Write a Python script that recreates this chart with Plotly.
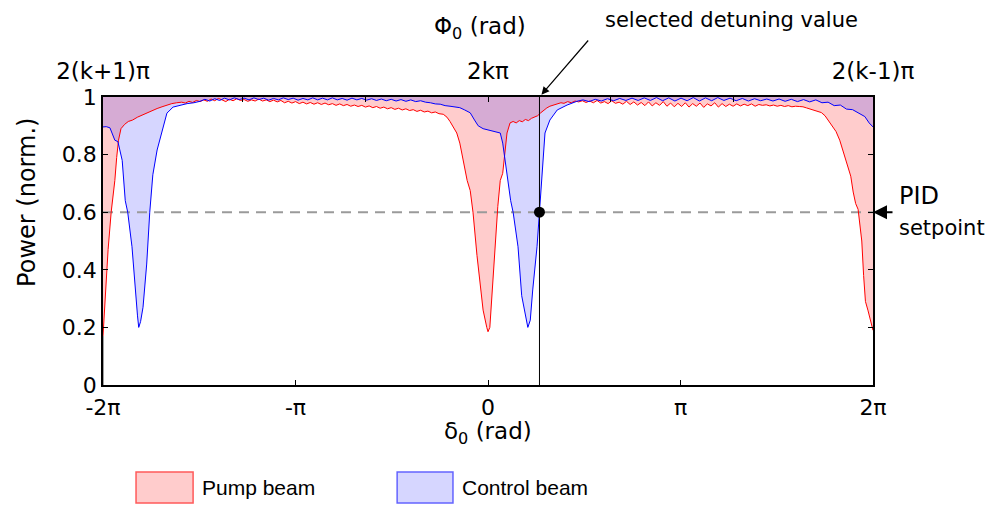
import numpy as np
import plotly.graph_objects as go

TWO_PI = 2 * np.pi
X_RANGE = [-TWO_PI, TWO_PI]
Y_RANGE = [0, 1]

# Pump beam (red) – normalised power vs detuning (rad)
PUMP_X = [-6.283, -6.25, -6.20, -6.15, -6.09, -6.06, -6.03, -5.99, -5.93, -5.87, -5.80, -5.72,
          -5.64, -5.56, -5.48, -5.40, -5.32, -5.24, -5.16, -5.08, -5.00, -4.94, -4.88, -4.82,
          -4.76, -4.70, -4.64, -4.58, -4.52, -4.46, -4.40, -4.34, -4.28, -4.22, -4.16, -4.10,
          -4.04, -3.98, -3.92, -3.86, -3.80, -3.74, -3.68, -3.62, -3.56, -3.50, -3.44, -3.38,
          -3.32, -3.26, -3.20, -3.14, -3.08, -3.02, -2.96, -2.90, -2.84, -2.78, -2.72, -2.66,
          -2.60, -2.54, -2.48, -2.42, -2.36, -2.30, -2.24, -2.18, -2.12, -2.06, -2.00, -1.94,
          -1.88, -1.82, -1.76, -1.70, -1.64, -1.58, -1.52, -1.46, -1.40, -1.34, -1.28, -1.22,
          -1.16, -1.10, -1.04, -0.98, -0.92, -0.86, -0.80, -0.73, -0.67, -0.62, -0.56, -0.51,
          -0.46, -0.41, -0.34, -0.29, -0.245, -0.18, -0.13, -0.08, -0.02, 0.00, 0.03, 0.07,
          0.11, 0.16, 0.20, 0.24, 0.31, 0.36, 0.41, 0.46, 0.51, 0.56, 0.61, 0.66, 0.71, 0.76,
          0.81, 0.86, 0.91, 0.96, 1.01, 1.07, 1.13, 1.19, 1.24, 1.30, 1.36, 1.42, 1.48, 1.54,
          1.60, 1.66, 1.72, 1.78, 1.84, 1.90, 1.96, 2.02, 2.08, 2.14, 2.20, 2.26, 2.32, 2.38,
          2.44, 2.50, 2.56, 2.62, 2.68, 2.74, 2.80, 2.86, 2.92, 2.98, 3.04, 3.10, 3.16, 3.22,
          3.28, 3.34, 3.40, 3.46, 3.52, 3.58, 3.64, 3.70, 3.76, 3.82, 3.88, 3.94, 4.00, 4.06,
          4.12, 4.18, 4.24, 4.30, 4.36, 4.42, 4.48, 4.54, 4.60, 4.66, 4.72, 4.78, 4.84, 4.90,
          4.96, 5.02, 5.08, 5.14, 5.20, 5.26, 5.32, 5.38, 5.44, 5.50, 5.56, 5.62, 5.68, 5.74,
          5.80, 5.86, 5.92, 5.96, 6.00, 6.04, 6.07, 6.10, 6.13, 6.16, 6.20, 6.24, 6.283]
PUMP_Y = [0.17, 0.30, 0.47, 0.60, 0.71, 0.79, 0.85, 0.89, 0.905, 0.915, 0.92, 0.93,
          0.938, 0.945, 0.952, 0.96, 0.966, 0.972, 0.977, 0.98, 0.982, 0.979, 0.985, 0.981,
          0.988, 0.984, 0.99, 0.985, 0.993, 0.987, 0.995, 0.99, 0.984, 0.992, 0.987, 0.994,
          0.988, 0.991, 0.985, 0.99, 0.986, 0.993, 0.986, 0.99, 0.984, 0.989, 0.983, 0.988,
          0.98, 0.985, 0.979, 0.984, 0.977, 0.982, 0.976, 0.981, 0.975, 0.98, 0.974, 0.979,
          0.973, 0.977, 0.971, 0.976, 0.97, 0.974, 0.968, 0.972, 0.967, 0.971, 0.965, 0.969,
          0.963, 0.967, 0.961, 0.965, 0.959, 0.963, 0.957, 0.961, 0.955, 0.959, 0.953, 0.956,
          0.95, 0.954, 0.948, 0.951, 0.945, 0.948, 0.942, 0.94, 0.93, 0.915, 0.895, 0.875,
          0.84, 0.79, 0.71, 0.675, 0.60, 0.45, 0.35, 0.26, 0.20, 0.185, 0.20, 0.33,
          0.48, 0.62, 0.71, 0.735, 0.875, 0.91, 0.915, 0.91, 0.918, 0.914, 0.922, 0.918, 0.926, 0.93,
          0.935, 0.945, 0.955, 0.962, 0.968, 0.972, 0.976, 0.98, 0.978, 0.984, 0.98, 0.986, 0.983, 0.987,
          0.981, 0.986, 0.98, 0.988, 0.979, 0.984, 0.977, 0.987, 0.978, 0.982, 0.975, 0.985, 0.974, 0.983,
          0.972, 0.981, 0.97, 0.983, 0.969, 0.98, 0.971, 0.984, 0.968, 0.979, 0.966, 0.978, 0.967, 0.98,
          0.965, 0.977, 0.968, 0.979, 0.964, 0.976, 0.969, 0.98, 0.965, 0.977, 0.967, 0.975, 0.968, 0.976,
          0.969, 0.975, 0.97, 0.976, 0.968, 0.974, 0.971, 0.973, 0.969, 0.972, 0.968, 0.971, 0.967, 0.97,
          0.966, 0.968, 0.967, 0.966, 0.962, 0.958, 0.954, 0.95, 0.946, 0.935, 0.918, 0.90, 0.88, 0.85,
          0.81, 0.77, 0.725, 0.67, 0.63, 0.61, 0.56, 0.50, 0.38, 0.29, 0.26, 0.23, 0.19]

# Control beam (blue)
CTRL_X = [-6.283, -6.23, -6.17, -6.12, -6.09, -6.04, -6.00, -5.97, -5.92, -5.88, -5.81, -5.76,
          -5.72, -5.70, -5.67, -5.63, -5.57, -5.52, -5.47, -5.40, -5.32, -5.24, -5.14, -5.02,
          -4.91, -4.80, -4.70, -4.62, -4.54, -4.46, -4.38, -4.30, -4.22, -4.14, -4.06, -3.98,
          -3.90, -3.82, -3.74, -3.66, -3.58, -3.50, -3.42, -3.34, -3.26, -3.18, -3.10, -3.02,
          -2.94, -2.86, -2.78, -2.70, -2.62, -2.54, -2.46, -2.38, -2.30, -2.22, -2.14, -2.06,
          -1.98, -1.90, -1.82, -1.74, -1.66, -1.58, -1.50, -1.42, -1.34, -1.26, -1.18, -1.10,
          -1.02, -0.94, -0.86, -0.78, -0.70, -0.62, -0.54, -0.46, -0.38, -0.29, -0.22, -0.16,
          -0.08, 0.00, 0.08, 0.14, 0.20, 0.24, 0.28, 0.33, 0.37, 0.41, 0.49, 0.55, 0.60, 0.65,
          0.69, 0.73, 0.80, 0.84, 0.865, 0.90, 0.93, 1.01, 1.13, 1.29, 1.45, 1.55, 1.65, 1.75,
          1.85, 1.95, 2.05, 2.15, 2.25, 2.35, 2.45, 2.55, 2.65, 2.75, 2.85, 2.95, 3.05, 3.15,
          3.25, 3.35, 3.45, 3.55, 3.65, 3.75, 3.85, 3.95, 4.05, 4.15, 4.25, 4.35, 4.45, 4.55,
          4.65, 4.75, 4.85, 4.95, 5.05, 5.15, 5.25, 5.35, 5.45, 5.55, 5.65, 5.75, 5.85, 5.95,
          6.05, 6.15, 6.22, 6.283]
CTRL_Y = [0.896, 0.897, 0.893, 0.87, 0.85, 0.845, 0.81, 0.78, 0.64, 0.60, 0.48, 0.33,
          0.24, 0.20, 0.22, 0.27, 0.42, 0.60, 0.73, 0.816, 0.885, 0.944, 0.965, 0.972,
          0.977, 0.98, 0.985, 0.992, 0.986, 0.994, 0.988, 0.996, 0.99, 0.997, 0.991, 0.996,
          0.99, 0.997, 0.991, 0.996, 0.989, 0.995, 0.99, 0.997, 0.991, 0.996, 0.989, 0.995,
          0.99, 0.997, 0.99, 0.996, 0.99, 0.997, 0.99, 0.995, 0.989, 0.996, 0.99, 0.995,
          0.989, 0.994, 0.988, 0.993, 0.987, 0.992, 0.986, 0.991, 0.985, 0.99, 0.984, 0.987,
          0.982, 0.98, 0.976, 0.975, 0.97, 0.968, 0.966, 0.963, 0.955, 0.945, 0.92, 0.90,
          0.89, 0.885, 0.882, 0.878, 0.875, 0.84, 0.78, 0.71, 0.64, 0.60, 0.48, 0.31, 0.25, 0.20,
          0.225, 0.33, 0.48, 0.60, 0.71, 0.81, 0.875, 0.92, 0.955, 0.972, 0.985, 0.99, 0.984, 0.992,
          0.986, 0.994, 0.987, 0.995, 0.988, 0.996, 0.988, 0.997, 0.988, 0.998, 0.987, 0.997, 0.986, 0.996,
          0.987, 0.998, 0.986, 0.997, 0.987, 0.998, 0.988, 0.996, 0.987, 0.995, 0.986, 0.994, 0.987, 0.993,
          0.986, 0.993, 0.985, 0.992, 0.984, 0.991, 0.983, 0.99, 0.98, 0.982, 0.97, 0.972, 0.958, 0.956,
          0.945, 0.932, 0.91, 0.896]

SETPOINT = 0.6
SEL_X = 0.84

BOTTOM_TICK_VALS = [-TWO_PI, -np.pi, 0, np.pi, TWO_PI]
BOTTOM_TICK_TEXT = ["-2π", "-π", "0", "π", "2π"]
TOP_TICK_VALS = [-TWO_PI, -4, -2, 0, 2, 4, TWO_PI]
TOP_TICK_TEXT = ["2(k+1)π", "", "", "2kπ", "", "", "2(k-1)π"]
Y_TICK_VALS = [0, 0.2, 0.4, 0.6, 0.8, 1]
Y_TICK_TEXT = ["0", "0.2", "0.4", "0.6", "0.8", "1"]

SERIES_NAMES = ["Pump beam", "Control beam"]
LINE_COLORS = ["#ff0000", "#0000ff"]
FILL_COLORS = ["rgba(255,0,0,0.2)", "rgba(0,0,255,0.16)"]

FONT = "DejaVu Sans"
LEG_FONT = "Liberation Sans"

fig = go.Figure()

series = [(PUMP_X, PUMP_Y), (CTRL_X, CTRL_Y)]
for (xs, ys), fc in zip(series, FILL_COLORS):
    fig.add_trace(go.Scatter(x=list(xs) + [xs[-1], xs[0]], y=list(ys) + [Y_RANGE[1], Y_RANGE[1]],
                             fill="toself", fillcolor=fc, mode="lines", line=dict(width=0),
                             hoverinfo="skip"))

fig.add_trace(go.Scatter(x=X_RANGE, y=[SETPOINT, SETPOINT], mode="lines",
                         line=dict(color="#9a9a9a", width=2, dash="10px,7px"), hoverinfo="skip"))

for (xs, ys), lc, nm in zip(series, LINE_COLORS, SERIES_NAMES):
    fig.add_trace(go.Scatter(x=xs, y=ys, mode="lines", name=nm, line=dict(color=lc, width=1)))

imin = int(np.argmin(PUMP_Y))
fig.add_trace(go.Scatter(x=[PUMP_X[imin], PUMP_X[imin]], y=[0, PUMP_Y[imin]], mode="lines",
                         line=dict(color="#444444", width=1), hoverinfo="skip"))
fig.add_trace(go.Scatter(x=[SEL_X, SEL_X], y=[0, 1.013], mode="lines", cliponaxis=False,
                         line=dict(color="black", width=1), hoverinfo="skip"))
fig.add_trace(go.Scatter(x=[SEL_X], y=[SETPOINT], mode="markers", cliponaxis=False,
                         marker=dict(color="black", size=11), hoverinfo="skip"))

fig.add_trace(go.Scatter(x=X_RANGE, y=[None, None], xaxis="x2", mode="lines",
                         line=dict(width=0), hoverinfo="skip"))

tickfont = dict(family=FONT, size=22, color="black")
fig.update_layout(
    width=997, height=509, autosize=False,
    margin=dict(l=103, r=124, t=97, b=124),
    paper_bgcolor="white", plot_bgcolor="white",
    showlegend=False,
    xaxis=dict(range=X_RANGE, tickvals=BOTTOM_TICK_VALS, ticktext=BOTTOM_TICK_TEXT,
               ticks="inside", ticklen=5, tickcolor="black", showline=True, linecolor="black",
               linewidth=1.5, mirror=True, showgrid=False, zeroline=False, tickfont=tickfont,
               ticklabelstandoff=2),
    xaxis2=dict(range=X_RANGE, overlaying="x", side="top", anchor="y",
                tickvals=TOP_TICK_VALS, ticktext=TOP_TICK_TEXT, ticks="inside", ticklen=5,
                tickcolor="black", showline=False, showgrid=False, zeroline=False,
                tickfont=dict(family=FONT, size=23, color="black"), ticklabelstandoff=12),
    yaxis=dict(range=Y_RANGE, tickvals=Y_TICK_VALS, ticktext=Y_TICK_TEXT, ticks="inside",
               ticklen=5, tickcolor="black", showline=True, linecolor="black", linewidth=1.5,
               mirror="ticks", showgrid=False, zeroline=False, tickfont=tickfont),
)

def txt(x, y, text, size, xanchor="center", family=FONT, angle=0):
    return dict(xref="paper", yref="paper", x=x, y=y, text=text, showarrow=False,
                xanchor=xanchor, yanchor="middle", textangle=angle,
                font=dict(family=family, size=size, color="black"))

ann = [
    txt(0.49, 1.24, "Φ<sub>0</sub> (rad)", 23),
    txt(0.5, -0.167, "δ<sub>0</sub> (rad)", 23),
    txt(-0.099, 0.635, "Power (norm.)", 24, angle=-90),
    txt(0.816, 1.267, "selected detuning value", 21),
    txt(1.031, 0.655, "PID", 24, xanchor="left"),
    txt(1.031, 0.545, "setpoint", 21, xanchor="left"),
]
ann.append(dict(x=SEL_X, y=Y_RANGE[1], xref="x", yref="y", ax=50, ay=-58, axref="pixel",
                ayref="pixel", text="", showarrow=True, arrowhead=2, arrowsize=1.3,
                arrowwidth=1.2, arrowcolor="black", standoff=3))
ann.append(dict(x=X_RANGE[1], y=SETPOINT, xref="x", yref="y", ax=21, ay=0, text="",
                showarrow=True, arrowhead=2, arrowsize=1.4, arrowwidth=2, arrowcolor="black",
                standoff=0))

leg_boxes = [(0.0429, 0.117), (0.382, 0.4545)]
leg_border = ["rgba(255,90,90,1)", "rgba(100,100,255,1)"]
shapes = []
for (x0, x1), fc, bc, nm in zip(leg_boxes, FILL_COLORS, leg_border, SERIES_NAMES):
    shapes.append(dict(type="rect", xref="paper", yref="paper", x0=x0, x1=x1, y0=-0.41, y1=-0.302,
                       fillcolor=fc, line=dict(color=bc, width=1.5)))
    ann.append(txt(x1 + 0.009, -0.356, nm, 21, xanchor="left", family=LEG_FONT))

fig.update_layout(annotations=ann, shapes=shapes)
fig.write_html("out.html", config={"displayModeBar": False},
               post_script="document.body.style.margin='0';")
